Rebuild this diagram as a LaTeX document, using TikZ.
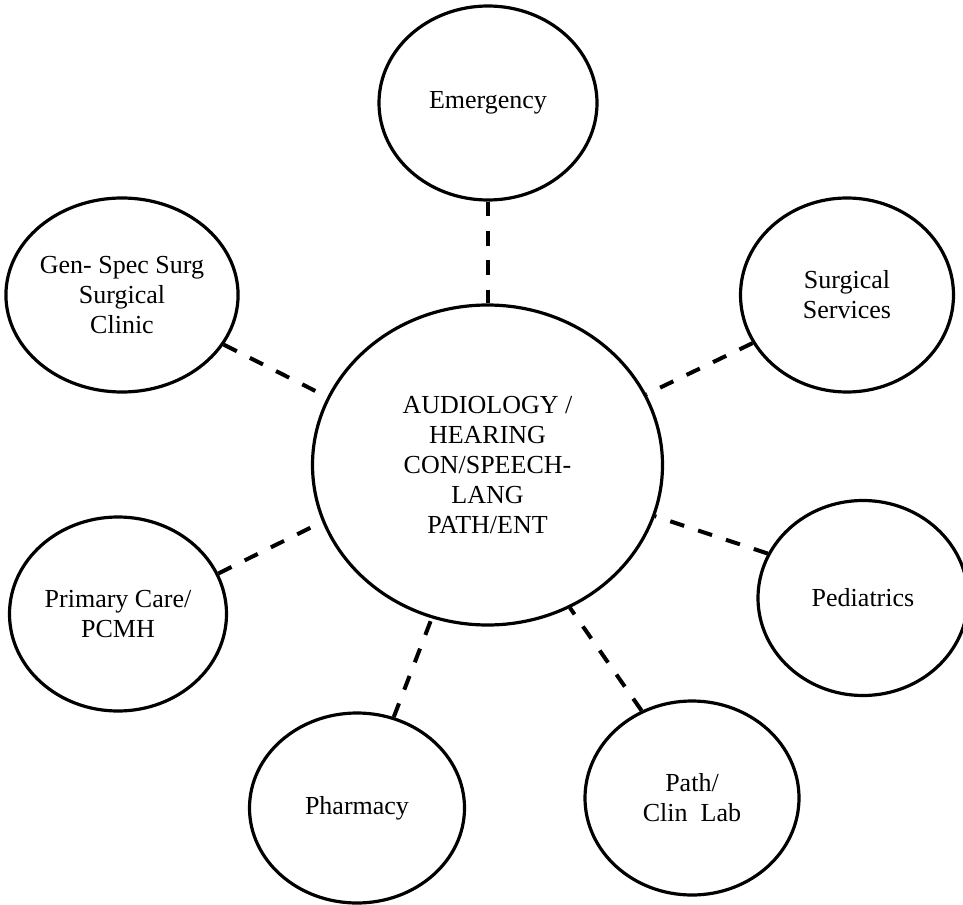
\documentclass[tikz,border=0pt]{standalone}
\usepackage{fontspec}
\setmainfont{Liberation Serif}
\usetikzlibrary{shapes.geometric}
\begin{document}
\begin{tikzpicture}[x=0.75pt,y=-0.75pt,
  bub/.style={ellipse,draw,line width=2.4pt,inner sep=0pt,align=center,
    font=\fontsize{19.5pt}{22.5pt}\selectfont},
  link/.style={line width=3pt,dash pattern=on 11pt off 11pt}]
\useasboundingbox (0,0) rectangle (963,905);
\clip (0,0) rectangle (963,905);
\node[bub,minimum width=262.5pt,minimum height=240pt] (C) at (487.5,465)
  {AUDIOLOGY /\\HEARING\\CON/SPEECH-\\LANG\\PATH/ENT};
\node[bub,minimum width=163.5pt,minimum height=145.5pt] (E) at (488,103) {Emergency};
\node[bub,minimum width=161.25pt,minimum height=145.5pt] (G) at (122,295) {Gen- Spec Surg\\Surgical\\Clinic};
\node[bub,minimum width=159.75pt,minimum height=145.5pt] (S) at (847,295) {Surgical\\Services};
\node[bub,minimum width=162.75pt,minimum height=145.5pt] (P) at (118,614) {Primary Care/\\PCMH};
\node[bub,minimum width=157.5pt,minimum height=146.25pt] (D) at (863,598) {Pediatrics};
\node[bub,minimum width=161.25pt,minimum height=142.5pt] (H) at (357,808) {Pharmacy};
\node[bub,minimum width=160.5pt,minimum height=145.5pt] (L) at (692,798) {Path/\\Clin~ Lab};
\draw[link] (E.south) -- (E.south |- C.north);
\draw[link] (G.-26.8) -- (C.157);
\draw[link] (S.207.2) -- (C.24.5);
\draw[link] (P.22.8) -- (C.199.8);
\draw[link] (D.155.9) -- (C.-17.7);
\draw[link] (H.68.4) -- (C.-110.4);
\draw[link] (L.120.6) -- (C.-60.5);
\end{tikzpicture}
\end{document}
